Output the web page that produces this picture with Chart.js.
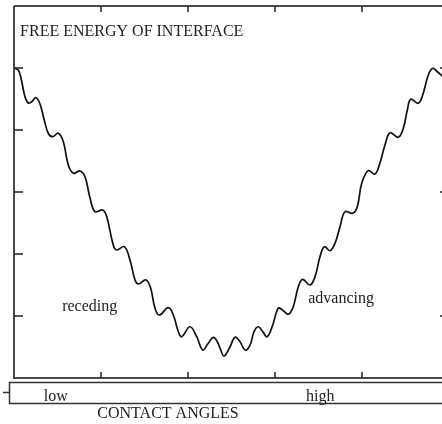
<!DOCTYPE html>
<html>
<head>
<meta charset="utf-8">
<script src="https://cdn.jsdelivr.net/npm/chart.js@4/dist/chart.umd.min.js"></script>
<style>
  html, body { margin: 0; padding: 0; overflow: hidden; background: #fff; width: 442px; height: 424px; }
  #wrap { position: relative; width: 460px; height: 424px; }
</style>
</head>
<body>
<div id="wrap"><canvas id="c" width="460" height="424"></canvas></div>
<script>
// ---- data ----
const contactAngle = [0.00,0.049,0.080,0.126,0.164,0.203,0.253,0.299,0.348,0.394,0.445,0.509,0.567,0.624,0.682,0.759,0.816,0.874,0.931,1.020,1.066,1.141,1.180,1.268,1.333,1.391,1.429,1.517,1.571,1.621,1.670,1.774,1.831,1.889,1.928,2.023,2.100,2.169,2.233,2.291,2.337,2.376,2.414,2.475,2.540,2.598,2.655,2.713,2.759,2.808,2.859,2.911,2.974,3.038,3.095,3.153,3.210,3.268,3.318,3.402,3.460,3.517,3.567,3.632,3.690,3.747,3.805,3.893,3.946,3.997,4.072,4.149,4.199,4.264,4.322,4.417,4.475,4.521,4.560,4.647,4.698,4.762,4.813,4.866,4.908,4.966];
const freeEnergy   = [5.00,4.968,4.839,4.537,4.435,4.456,4.521,4.419,4.161,3.947,3.892,3.947,3.811,3.435,3.302,3.339,3.247,2.903,2.682,2.710,2.602,2.145,2.065,2.118,1.903,1.581,1.516,1.581,1.447,1.124,1.016,1.134,1.016,0.747,0.666,0.827,0.666,0.452,0.560,0.656,0.585,0.452,0.355,0.479,0.656,0.585,0.452,0.532,0.747,0.827,0.747,0.666,0.855,1.124,1.085,1.027,1.150,1.473,1.592,1.500,1.634,1.956,2.118,2.053,2.173,2.440,2.682,2.656,2.763,3.140,3.344,3.290,3.435,3.758,3.956,3.882,4.027,4.323,4.495,4.431,4.565,4.887,4.995,4.940,4.887,4.806];
const xTicks = [1, 2, 3, 4];
const yTicks = [1, 2, 3, 4, 5];
const yTicksRight = [1, 3, 5];
const angleLabels = ["low", "high"];
const angleLabelPos = [0.48, 3.52];
const yAxisTitle = "FREE ENERGY OF INTERFACE";
const xAxisTitle = "CONTACT ANGLES";
const regionLabels = ["receding", "advancing"];
const regionLabelPos = [[0.87, 1.15], [3.76, 1.28]];

const points = contactAngle.map((x, i) => ({ x: x, y: freeEnergy[i] }));

const FONT = '16px "Liberation Serif", "Times New Roman", serif';
const AXIS = '#4a4a4a';

const framePlugin = {
  id: 'frame',
  afterDraw(chart) {
    const ctx = chart.ctx;
    const xs = chart.scales.x, ys = chart.scales.y;
    const x0 = xs.getPixelForValue(0), x5 = xs.getPixelForValue(5);
    const yTop = ys.getPixelForValue(6), yBot = ys.getPixelForValue(0);
    const W = chart.width;
    ctx.save();
    ctx.strokeStyle = AXIS;
    ctx.lineWidth = 2;
    ctx.beginPath();
    ctx.moveTo(x0, yTop); ctx.lineTo(W, yTop);
    ctx.moveTo(x0, yTop); ctx.lineTo(x0, yBot);
    ctx.moveTo(x0 - 1, yBot); ctx.lineTo(W, yBot);
    ctx.stroke();
    // ticks
    ctx.lineWidth = 1.5;
    ctx.strokeStyle = '#222';
    ctx.beginPath();
    xTicks.forEach(v => {
      const px = xs.getPixelForValue(v);
      ctx.moveTo(px, yTop); ctx.lineTo(px, yTop + 6);
      ctx.moveTo(px, yBot); ctx.lineTo(px, yBot - 6);
    });
    yTicks.forEach(v => {
      const py = ys.getPixelForValue(v);
      ctx.moveTo(x0, py); ctx.lineTo(x0 + 9, py);
    });
    yTicksRight.forEach(v => {
      const py = ys.getPixelForValue(v);
      ctx.moveTo(x5, py); ctx.lineTo(x5 - 9, py);
    });
    ctx.stroke();
    // category box below
    const bTop = yBot + 4.5, bBot = yBot + 25.5;
    ctx.strokeStyle = '#333';
    ctx.lineWidth = 1.5;
    ctx.beginPath();
    ctx.moveTo(W, bTop); ctx.lineTo(9.5, bTop); ctx.lineTo(9.5, bBot); ctx.lineTo(W, bBot);
    ctx.moveTo(3, (bTop + bBot) / 2 - 0.5); ctx.lineTo(9.5, (bTop + bBot) / 2 - 0.5);
    ctx.stroke();
    // texts
    ctx.fillStyle = '#222';
    ctx.font = FONT;
    ctx.textBaseline = 'alphabetic';
    ctx.textAlign = 'center';
    angleLabels.forEach((t, i) => {
      ctx.fillText(t, xs.getPixelForValue(angleLabelPos[i]), bBot - 3);
    });
    ctx.fillText(xAxisTitle, xs.getPixelForValue(1.77), yBot + 40);
    ctx.textBaseline = 'middle';
    regionLabels.forEach((t, i) => {
      ctx.fillText(t, xs.getPixelForValue(regionLabelPos[i][0]), ys.getPixelForValue(regionLabelPos[i][1]));
    });
    ctx.textAlign = 'left';
    ctx.fillText(yAxisTitle, xs.getPixelForValue(0.07), ys.getPixelForValue(5.58));
    ctx.restore();
  }
};

new Chart(document.getElementById('c'), {
  type: 'line',
  data: {
    datasets: [{
      data: points,
      borderColor: '#111',
      borderWidth: 1.7,
      pointRadius: 0,
      fill: false,
      tension: 0.4
    }]
  },
  options: {
    responsive: false,
    animation: false,
    layout: { padding: { left: 14, top: 6, right: 11, bottom: 46 } },
    plugins: { legend: { display: false }, tooltip: { enabled: false }, title: { display: false } },
    scales: {
      x: { type: 'linear', min: 0, max: 5, display: false },
      y: { type: 'linear', min: 0, max: 6, display: false }
    },
    clip: false
  },
  plugins: [framePlugin]
});
</script>
</body>
</html>
